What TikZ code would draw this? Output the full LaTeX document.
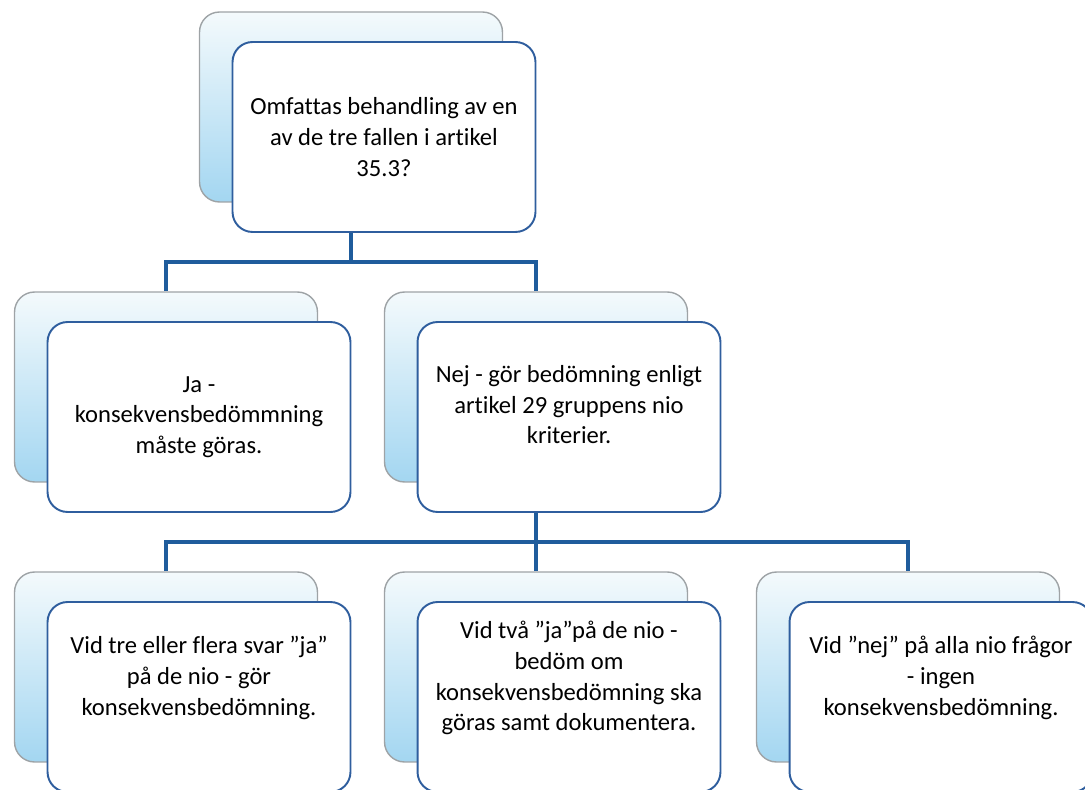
\documentclass[tikz,border=0pt]{standalone}
\usepackage{fontspec}
\setmainfont{Carlito}[Ligatures=NoCommon]
\usepackage{tikz}
\usetikzlibrary{calc}

\definecolor{frameblue}{HTML}{2F5E9E}
\definecolor{linkblue}{HTML}{1F5C9C}
\definecolor{cardgray}{HTML}{9EA3A6}
\definecolor{cardtop}{HTML}{F4FAFC}
\definecolor{cardbottom}{HTML}{A3D6F1}

% extra depth on the last line lifts the text in the bottom row
\newcommand{\liftup}{\rule[-24pt]{0pt}{0pt}}

\begin{document}
\begin{tikzpicture}[
    x=0.02cm, y=-0.02cm,
    card/.style={draw=cardgray, line width=0.8pt, rounded corners=0.4cm, top color=cardtop, bottom color=cardbottom, minimum width=6.06cm, minimum height=3.8cm},
    box/.style={draw=frameblue, line width=1.1pt, rounded corners=0.4cm, fill=white, minimum width=6.06cm, minimum height=3.8cm, align=center, font=\fontsize{14}{17.5}\selectfont, text=black},
    link/.style={draw=linkblue, line width=2.4pt}
]
    \useasboundingbox (0,0) rectangle (1085,790);
    \clip (0,0) rectangle (1085,790);

    % back cards
    \node[card] (qback) at (351,107) {};
    \node[card] (jaback) at (166,387) {};
    \node[card] (nejback) at (536,387) {};
    \node[card] (treback) at (166,667) {};
    \node[card] (tvaback) at (536,667) {};
    \node[card] (ingenback) at (908,667) {};

    % front cards
    \node[box] (q) at (384,137) {Omfattas behandling av en\\av de tre fallen i artikel\\35.3?};
    \node[box] (ja) at (199,417) {Ja -\\konsekvensbedömmning\\måste göras.};
    \node[box] (nej) at (569,417) {Nej - gör bedömning enligt\\artikel 29 gruppens nio\\kriterier.\rule[-14pt]{0pt}{0pt}};
    \node[box] (tre) at (199,697) {Vid tre eller flera svar ”ja”\\på de nio - gör\\konsekvensbedömning.\liftup};
    \node[box] (tva) at (569,697) {Vid två ”ja”på de nio -\\bedöm om\\konsekvensbedömning ska\\göras samt dokumentera.\liftup};
    \node[box] (ingen) at (941,697) {Vid ”nej” på alla nio frågor\\- ingen\\konsekvensbedömning.\liftup};

    % connectors
    \coordinate (fork1) at (351,262);
    \coordinate (fork2) at (536,542);
    \draw[link] (qback |- q.south) -- (fork1);
    \draw[link] (fork1) -| (jaback.north);
    \draw[link] (fork1) -| (nejback.north);
    \draw[link] (nejback |- nej.south) -- (fork2);
    \draw[link] (fork2) -| (treback.north);
    \draw[link] (fork2) -- (tvaback.north);
    \draw[link] (fork2) -| (ingenback.north);
\end{tikzpicture}
\end{document}
